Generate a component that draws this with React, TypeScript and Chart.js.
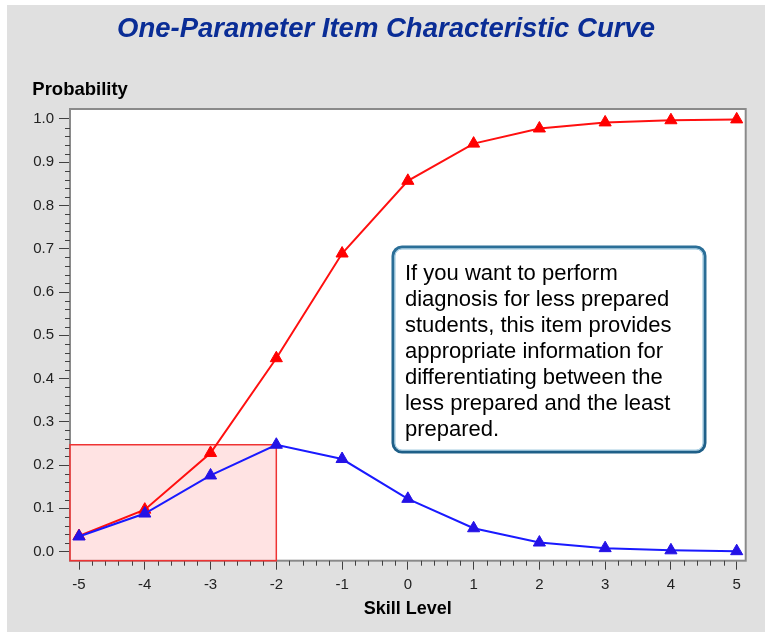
import { useEffect, useRef } from "react";
import { Chart, registerables } from "chart.js";

Chart.register(...registerables);

// ---- data ----
const skillLevels = [-5, -4, -3, -2, -1, 0, 1, 2, 3, 4, 5];
const probability = [0.036, 0.097, 0.228, 0.447, 0.689, 0.857, 0.943, 0.978, 0.992, 0.997, 0.999];
const information = [0.035, 0.088, 0.176, 0.247, 0.214, 0.122, 0.054, 0.021, 0.008, 0.003, 0.001];
const xTicks = [-5, -4, -3, -2, -1, 0, 1, 2, 3, 4, 5];
const yTicks = [0, 0.1, 0.2, 0.3, 0.4, 0.5, 0.6, 0.7, 0.8, 0.9, 1.0];

const titleText = "One-Parameter Item Characteristic Curve";
const yTitleText = "Probability";
const xTitleText = "Skill Level";
const noteLines = [
  "If you want to perform",
  "diagnosis for less prepared",
  "students, this item provides",
  "appropriate information for",
  "differentiating between the",
  "less prepared and the least",
  "prepared.",
];

// shaded region (data units): from axis minimum up to these values
const shadeXMax = -2;
const shadeYMax = 0.247;
// annotation box corners (data units)
const noteXMin = -0.226;
const noteXMax = 4.518;
const noteYMin = 0.23;
const noteYMax = 0.704;

const FONT = "'Liberation Sans', Arial, Helvetica, sans-serif";

const decorPlugin = {
  id: "decor",
  beforeDraw(chart: any) {
    const { ctx, chartArea: a } = chart;
    ctx.save();
    ctx.fillStyle = "#e0e0e0";
    ctx.fillRect(0, 0, chart.width, chart.height);
    ctx.fillStyle = "#ffffff";
    ctx.fillRect(a.left, a.top, a.right - a.left, a.bottom - a.top);
    ctx.restore();
  },
  beforeDatasetsDraw(chart: any) {
    const { ctx, chartArea: a, scales } = chart;
    const x = scales.x;
    const y = scales.y;
    ctx.save();
    // plot frame
    ctx.strokeStyle = "#8a8a8a";
    ctx.lineWidth = 2;
    ctx.strokeRect(a.left, a.top, a.right - a.left, a.bottom - a.top);

    // minor ticks
    ctx.strokeStyle = "#404040";
    ctx.lineWidth = 1;
    ctx.beginPath();
    for (let i = -25; i <= 25; i++) {
      if (i % 5 === 0) continue;
      const px = Math.round(x.getPixelForValue(i * 0.2)) + 0.5;
      ctx.moveTo(px, a.bottom);
      ctx.lineTo(px, a.bottom + 5);
    }
    for (let i = 1; i <= 50; i++) {
      if (i % 5 === 0) continue;
      const py = Math.round(y.getPixelForValue(i * 0.02)) + 0.5;
      ctx.moveTo(a.left, py);
      ctx.lineTo(a.left - 5, py);
    }
    ctx.stroke();

    // shaded rectangle
    const rx0 = x.getPixelForValue(x.min);
    const rx1 = x.getPixelForValue(shadeXMax);
    const ry0 = y.getPixelForValue(shadeYMax);
    const ry1 = y.getPixelForValue(y.min);
    ctx.fillStyle = "rgba(255, 200, 200, 0.5)";
    ctx.fillRect(rx0, ry0, rx1 - rx0, ry1 - ry0);
    ctx.strokeStyle = "#ee3333";
    ctx.lineWidth = 1.5;
    ctx.strokeRect(rx0, ry0, rx1 - rx0, ry1 - ry0);

    // y title
    ctx.fillStyle = "#000000";
    ctx.font = `bold 18.5px ${FONT}`;
    ctx.textAlign = "left";
    ctx.textBaseline = "alphabetic";
    ctx.fillText(yTitleText, 25.3, 90);
    ctx.restore();
  },
  afterDatasetsDraw(chart: any) {
    const { ctx, scales } = chart;
    const x = scales.x;
    const y = scales.y;
    const l = x.getPixelForValue(noteXMin);
    const r = x.getPixelForValue(noteXMax);
    const t = y.getPixelForValue(noteYMax);
    const b = y.getPixelForValue(noteYMin);
    ctx.save();
    ctx.beginPath();
    ctx.roundRect(l, t, r - l, b - t, 9);
    ctx.fillStyle = "#ffffff";
    ctx.fill();
    const g = ctx.createLinearGradient(0, t, 0, b);
    g.addColorStop(0, "#2b6f98");
    g.addColorStop(1, "#1e5f88");
    ctx.lineWidth = 3;
    ctx.strokeStyle = g;
    ctx.stroke();
    ctx.beginPath();
    ctx.roundRect(l + 2, t + 2, r - l - 4, b - t - 4, 7);
    ctx.lineWidth = 1;
    ctx.strokeStyle = "#8fc0db";
    ctx.stroke();

    ctx.fillStyle = "#000000";
    ctx.font = `22px ${FONT}`;
    ctx.textAlign = "left";
    ctx.textBaseline = "alphabetic";
    noteLines.forEach((line, i) => {
      ctx.fillText(line, l + 12, t + 33 + i * 26);
    });
    ctx.restore();
  },
};

export default function App() {
  const canvasRef = useRef<HTMLCanvasElement | null>(null);

  useEffect(() => {
    const canvas = canvasRef.current;
    if (!canvas) return;
    const chart = new Chart(canvas, {
      type: "line",
      data: {
        labels: skillLevels,
        datasets: [
          {
            label: "Information",
            data: skillLevels.map((s, i) => ({ x: s, y: information[i] })),
            borderColor: "#1a1aff",
            backgroundColor: "#2412e6",
            pointBackgroundColor: "#2412e6",
            pointBorderColor: "#2412e6",
            borderWidth: 2,
            pointStyle: "triangle",
            pointRadius: 7,
            pointBorderWidth: 1,
            tension: 0,
            fill: false,
          },
          {
            label: "Probability",
            data: skillLevels.map((s, i) => ({ x: s, y: probability[i] })),
            borderColor: "#ff1010",
            backgroundColor: "#ff0000",
            pointBackgroundColor: "#ff0000",
            pointBorderColor: "#ff0000",
            borderWidth: 2,
            pointStyle: "triangle",
            pointRadius: 7,
            pointBorderWidth: 1,
            tension: 0,
            fill: false,
          },
        ],
      },
      options: {
        animation: false,
        responsive: false,
        devicePixelRatio: 1,
        layout: { padding: { left: 19.3, top: 0, right: 19.3, bottom: 0 } },
        plugins: {
          legend: { display: false },
          tooltip: { enabled: false },
          title: {
            display: true,
            text: titleText,
            color: "#0a2d96",
            font: { family: FONT, size: 27.5, weight: "bold", style: "italic" },
            padding: { top: 7.5, bottom: 63.5 },
          },
        },
        scales: {
          x: {
            type: "linear",
            min: -5.137,
            max: 5.137,
            afterBuildTicks: (s: any) => {
              s.ticks = xTicks.map((v) => ({ value: v }));
            },
            afterFit: (s: any) => {
              s.height = 71.3;
            },
            grid: { drawOnChartArea: false, drawTicks: true, tickLength: 9, tickColor: "#404040", tickWidth: 1 },
            border: { display: false },
            ticks: {
              font: { family: FONT, size: 15 },
              color: "#222222",
              padding: 6,
              maxRotation: 0,
              autoSkip: false,
              callback: (v: any) => String(v),
            },
            title: {
              display: true,
              text: xTitleText,
              color: "#000000",
              font: { family: FONT, size: 18, weight: "bold" },
              padding: { top: 0, bottom: 12 },
            },
          },
          y: {
            type: "linear",
            min: -0.021,
            max: 1.023,
            afterBuildTicks: (s: any) => {
              s.ticks = yTicks.map((v) => ({ value: v }));
            },
            afterFit: (s: any) => {
              s.width = 43.7;
            },
            grid: { drawOnChartArea: false, drawTicks: true, tickLength: 11, tickColor: "#404040", tickWidth: 1 },
            border: { display: false },
            ticks: {
              font: { family: FONT, size: 15 },
              color: "#222222",
              padding: 5,
              autoSkip: false,
              callback: (v: any) => Number(v).toFixed(1),
            },
          },
        },
      } as any,
      plugins: [decorPlugin],
    });
    return () => chart.destroy();
  }, []);

  return (
    <div style={{ position: "absolute", left: 7, top: 5, width: 758, height: 627, background: "#e0e0e0" }}>
      <canvas ref={canvasRef} width={758} height={627} style={{ display: "block", width: 758, height: 627 }} />
    </div>
  );
}
